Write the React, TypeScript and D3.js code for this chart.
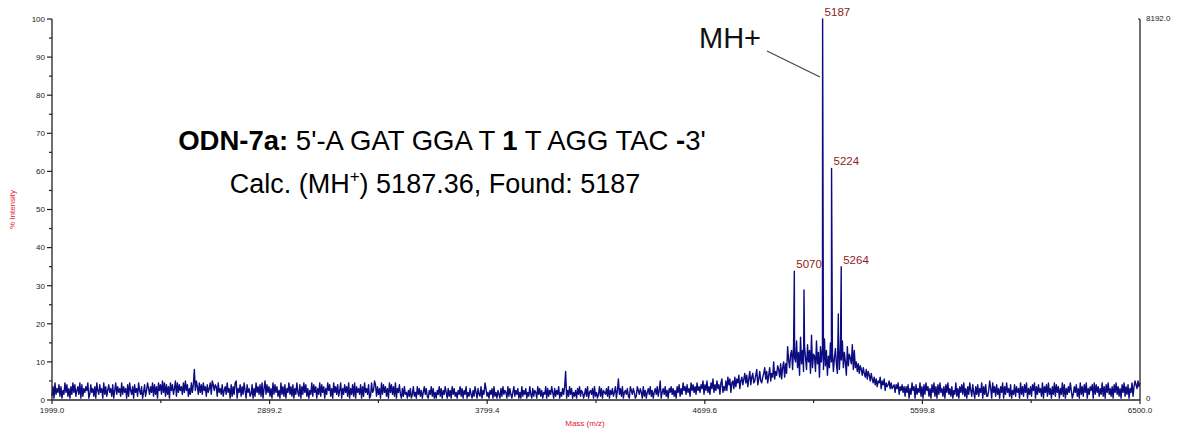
import React from "react";
import * as d3 from "d3";

// Mass axis range (m/z) and tick values
const massDomain: [number, number] = [1999.0, 6500.0];
const massTicks = [1999.0, 2899.2, 3799.4, 4699.6, 5599.8, 6500.0];
const intensityTicks = [0, 10, 20, 30, 40, 50, 60, 70, 80, 90, 100];

// Spectrum trace, one character per sample across the mass range.
// Each character is an intensity in half-percent steps (0-9, then a-z).
const traceRows = [
  "27193648271539482617394825739182647591384627195384",
  "61937258462815937462937461829537184629537148259637",
  "49283719583a492837195836a294857394a58263948g5a7394",
  "83957284693a85872946382573946182739a16482739518462",
  "38162947382916a38472619384725193728164937281639428",
  "17394826153928471639284716395826194738259163847291",
  "638291746381729463812945a8273619384726194837291648",
  "31627341526137241736251473621537261415372615374162",
  "51736241537261537142631527416327153962415361724153",
  "16273541726314725361417253614273162541736251437162",
  "5374162537142637f15273614251637254136271453617241",
  "37261543627153624715b362714536217536412753641725",
  "14637251463725a14637251647362517482639573846295847",
  "3957486a385a47396b485a6839b475a5c8b49a6c7b9d6ac8be",
  "9d7bf8ce9adg8bfa9cehbf9dhaeckbfdigcjbhkcjeslhoqgtmkvhpdxjqfs",
  "mgtkqeyhonfvjpcskrgwiqdnhukpfmrjezgqlvhpkdsiomjtgq",
  "hkfjeigdhecgbfdaeb9c8b7a9c6a8b5978a696784869375847",
  "27481639571836492718395726184927183946271849362715",
  "39261748392617395284173826491738225a6194728361749",
  "17394628153827461937284916372859173846291748293617",
  "39284716392816374951374826193728491637581938472639",
  "27184936271849372618492738164927a86a79",
];

// Resolved isotope/adduct peaks (m/z, % intensity)
const peakMasses = [5070, 5110, 5187, 5224, 5252, 5264];
const peakIntensities = [33.8, 28.9, 100, 60.8, 22.6, 35.0];
const labeledPeaks = [5070, 5187, 5224, 5264];

const W = 1178;
const H = 433;

type Pt = { m: number; v: number };

function buildSeries(): Pt[] {
  const codes = traceRows.join("").split("");
  const n = codes.length;
  const step = (massDomain[1] - massDomain[0]) / (n - 1);
  const pts: Pt[] = codes.map((c, i) => ({
    m: massDomain[0] + i * step,
    v: parseInt(c, 36) * 0.5,
  }));
  peakMasses.forEach((m, i) => pts.push({ m, v: peakIntensities[i] }));
  pts.sort((a, b) => a.m - b.m);
  return pts;
}

export default function App() {
  const x = d3.scaleLinear().domain(massDomain).range([52, 1140]);
  const y = d3.scaleLinear().domain([0, 100]).range([400, 19]);
  const series = buildSeries();
  const line = d3
    .line<Pt>()
    .x((d) => x(d.m))
    .y((d) => y(d.v));

  const minorY = d3.range(5, 100, 10);
  const minorX = massTicks.slice(0, -1).map((t, i) => (t + massTicks[i + 1]) / 2);
  const font = "'Liberation Sans', Arial, sans-serif";

  const peakTop = (m: number) => y(peakIntensities[peakMasses.indexOf(m)]);

  return (
    <svg
      width={W}
      height={H}
      style={{ position: "absolute", left: 0, top: 0, background: "#fff" }}
      fontFamily={font}
    >
      {/* spectrum trace */}
      <path d={line(series) || ""} fill="none" stroke="#0c0c80" strokeWidth={1.4} strokeLinejoin="round" />

      {/* left intensity axis */}
      <line x1={52} x2={52} y1={y(100)} y2={y(0)} stroke="#222" strokeWidth={1.3} />
      {intensityTicks.map((t) => (
        <g key={"yt" + t}>
          <line x1={47} x2={52} y1={y(t)} y2={y(t)} stroke="#222" strokeWidth={1.2} />
          <text x={45} y={y(t)} dy="0.35em" textAnchor="end" fontSize={8} fill="#222">
            {t}
          </text>
        </g>
      ))}
      {minorY.map((t) => (
        <line key={"ym" + t} x1={49} x2={52} y1={y(t)} y2={y(t)} stroke="#222" strokeWidth={1.2} />
      ))}

      {/* bottom mass axis */}
      <line x1={52} x2={1140} y1={y(0)} y2={y(0)} stroke="#222" strokeWidth={1.3} />
      {massTicks.map((t) => (
        <g key={"xt" + t}>
          <line x1={x(t)} x2={x(t)} y1={y(0)} y2={y(0) + 4} stroke="#222" strokeWidth={1.2} />
          <text x={x(t)} y={413} textAnchor="middle" fontSize={8} fill="#222">
            {t.toFixed(1)}
          </text>
        </g>
      ))}
      {minorX.map((t) => (
        <line key={"xm" + t} x1={x(t)} x2={x(t)} y1={y(0)} y2={y(0) + 3} stroke="#222" strokeWidth={1.2} />
      ))}

      {/* right counts axis */}
      <line x1={1140} x2={1140} y1={y(100)} y2={y(0)} stroke="#222" strokeWidth={1.3} />
      <line x1={1138} x2={1140} y1={y(100)} y2={y(100)} stroke="#222" strokeWidth={1.2} />
      <text x={1146} y={y(100)} dy="0.2em" fontSize={8} fill="#222">
        8192.0
      </text>
      <text x={1146} y={y(0)} dy="0.1em" fontSize={8} fill="#222">
        0
      </text>

      {/* axis titles */}
      <text x={585} y={426} textAnchor="middle" fontSize={8} fill="#e0202a">
        Mass (m/z)
      </text>
      <text
        transform={`translate(15,${y(50)}) rotate(-90)`}
        textAnchor="middle"
        fontSize={8}
        fill="#e0202a"
      >
        % Intensity
      </text>

      {/* peak labels */}
      {labeledPeaks.map((m) => (
        <text key={"pl" + m} x={x(m) + 2} y={peakTop(m) - 3} fontSize={11.5} fill="#8e1c1c">
          {m}
        </text>
      ))}

      {/* MH+ annotation */}
      <text x={699} y={48} fontSize={29} fill="#111">
        MH+
      </text>
      <line x1={767} y1={51} x2={820} y2={77} stroke="#444" strokeWidth={1.2} />

      {/* sequence and mass annotation */}
      <text x={442} y={150} textAnchor="middle" fontSize={27.5} fill="#000">
        <tspan fontWeight="bold">ODN-7a:</tspan>
        <tspan> 5'-A GAT GGA T </tspan>
        <tspan fontWeight="bold">1</tspan>
        <tspan> T AGG TAC </tspan>
        <tspan fontWeight="bold">-</tspan>
        <tspan>3'</tspan>
      </text>
      <text x={435} y={193} textAnchor="middle" fontSize={27} fill="#000">
        Calc. (MH
        <tspan dy={-11} fontSize={17}>
          +
        </tspan>
        <tspan dy={11}>) 5187.36, Found: 5187</tspan>
      </text>
    </svg>
  );
}
